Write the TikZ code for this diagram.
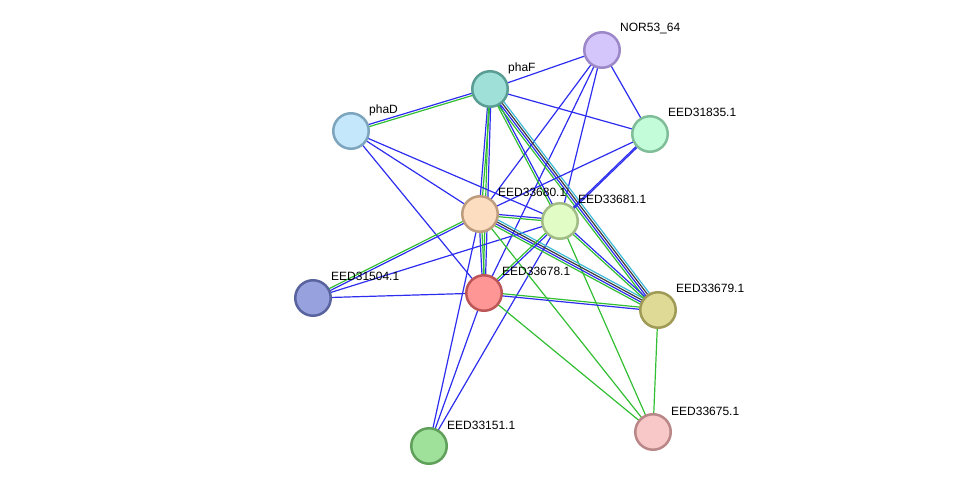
\documentclass[tikz,border=0pt]{standalone}
\usepackage{fontspec}
\setmainfont{Liberation Sans}
\usepackage{xcolor}
\usetikzlibrary{calc,backgrounds}

% evidence channels
\definecolor{lnblue}{RGB}{45,45,240}
\definecolor{lngreen}{RGB}{50,190,50}
\definecolor{lnblack}{RGB}{60,60,60}
\definecolor{lncyan}{RGB}{60,185,215}

% protein fills and rims
\definecolor{norfill}{HTML}{D4C5FA}\definecolor{norline}{HTML}{9C88C8}
\definecolor{phaffill}{HTML}{9FE1D8}\definecolor{phafline}{HTML}{5A9D94}
\definecolor{phadfill}{HTML}{C4E7FB}\definecolor{phadline}{HTML}{7EA5BE}
\definecolor{cfill}{HTML}{C3FCD9}\definecolor{cline}{HTML}{7FBE98}
\definecolor{pfill}{HTML}{FDDDC0}\definecolor{pline}{HTML}{BE9C7E}
\definecolor{qfill}{HTML}{E1FCC5}\definecolor{qline}{HTML}{A1BC84}
\definecolor{bfill}{HTML}{97A1DE}\definecolor{bline}{HTML}{59639E}
\definecolor{rfill}{HTML}{FE9696}\definecolor{rline}{HTML}{BD5657}
\definecolor{yfill}{HTML}{DFDB97}\definecolor{yline}{HTML}{9F9B57}
\definecolor{gfill}{HTML}{9FE09A}\definecolor{gline}{HTML}{60A05A}
\definecolor{kfill}{HTML}{F8C7C8}\definecolor{kline}{HTML}{B98788}

\begin{document}
\begin{tikzpicture}[
  x=1bp, y=-1bp,
  prot/.style={circle, draw, line width=2.5bp, minimum size=35.5bp, inner sep=0pt},
  lbl/.style={anchor=base west, inner sep=0pt, font=\fontsize{12bp}{14bp}\selectfont},
  link/.style={line width=1.2bp}
]
\useasboundingbox (0,0) rectangle (975,492);

% proteins
\node[prot, fill=norfill, draw=norline] (nor53) at (602,50) {};
\node[prot, fill=phaffill, draw=phafline] (phaF) at (490,89) {};
\node[prot, fill=phadfill, draw=phadline] (phaD) at (351,131) {};
\node[prot, fill=cfill, draw=cline] (e31835) at (650,134) {};
\node[prot, fill=pfill, draw=pline] (e33680) at (480,214) {};
\node[prot, fill=qfill, draw=qline] (e33681) at (560,221) {};
\node[prot, fill=bfill, draw=bline] (e31504) at (313,298) {};
\node[prot, fill=rfill, draw=rline] (e33678) at (484,293) {};
\node[prot, fill=yfill, draw=yline] (e33679) at (658,310) {};
\node[prot, fill=gfill, draw=gline] (e33151) at (429,446) {};
\node[prot, fill=kfill, draw=kline] (e33675) at (653,432) {};

% names
\node[lbl] at ([shift={(18,-18)}]nor53) {NOR53\_64};
\node[lbl] at ([shift={(18,-17)}]phaF) {phaF};
\node[lbl] at ([shift={(18,-17)}]phaD) {phaD};
\node[lbl] at ([shift={(18,-17)}]e31835) {EED31835.1};
\node[lbl] at ([shift={(18,-17)}]e33680) {EED33680.1};
\node[lbl] at ([shift={(18,-17)}]e33681) {EED33681.1};
\node[lbl] at ([shift={(18,-17)}]e31504) {EED31504.1};
\node[lbl] at ([shift={(18,-17)}]e33678) {EED33678.1};
\node[lbl] at ([shift={(18,-17)}]e33679) {EED33679.1};
\node[lbl] at ([shift={(18,-17)}]e33151) {EED33151.1};
\node[lbl] at ([shift={(18,-17)}]e33675) {EED33675.1};

% links, one line per channel
\begin{scope}[on background layer]
\foreach \a/\b/\lines in {
  nor53/phaF/{lnblue/0}, nor53/e31835/{lnblue/0}, nor53/e33680/{lnblue/0},
  nor53/e33678/{lnblue/0}, nor53/e33681/{lnblue/0},
  phaF/phaD/{lnblue/-0.5,lngreen/0.5}, phaF/e31835/{lnblue/0},
  phaF/e33680/{lnblue/-0.5,lngreen/0.5}, phaF/e33678/{lngreen/-0.5,lnblue/0.5},
  phaF/e33681/{lngreen/-0.5,lnblue/0.5},
  phaF/e33679/{lngreen/-1.5,lnblue/-0.5,lnblack/0.5,lncyan/1.5},
  phaD/e33680/{lnblue/0}, phaD/e33681/{lnblue/0}, phaD/e33678/{lnblue/0},
  e31835/e33680/{lnblue/0}, e31835/e33681/{lnblue/-0.3,lnblue/0.3},
  e31504/e33680/{lnblue/-0.5,lngreen/0.5}, e31504/e33681/{lnblue/0},
  e31504/e33678/{lnblue/0},
  e33151/e33680/{lnblue/0}, e33151/e33678/{lnblue/0}, e33151/e33681/{lnblue/0},
  e33675/e33679/{lngreen/0}, e33675/e33678/{lngreen/0},
  e33675/e33680/{lngreen/0}, e33675/e33681/{lngreen/0},
  e33680/e33681/{lngreen/-0.5,lnblue/0.5}, e33680/e33678/{lnblue/-0.5,lngreen/0.5},
  e33680/e33679/{lngreen/-1.5,lnblue/-0.5,lnblack/0.5,lncyan/1.5},
  e33681/e33678/{lngreen/-0.5,lnblue/0.5}, e33681/e33679/{lngreen/-0.5,lnblue/0.5},
  e33678/e33679/{lnblue/-0.5,lngreen/0.5}}
{
  \foreach \c/\o in \lines
    \draw[link, \c] ($(\a)!\o*2.2bp!90:(\b)$) -- ($(\b)!\o*2.2bp!-90:(\a)$);
}
\end{scope}
\end{tikzpicture}
\end{document}
